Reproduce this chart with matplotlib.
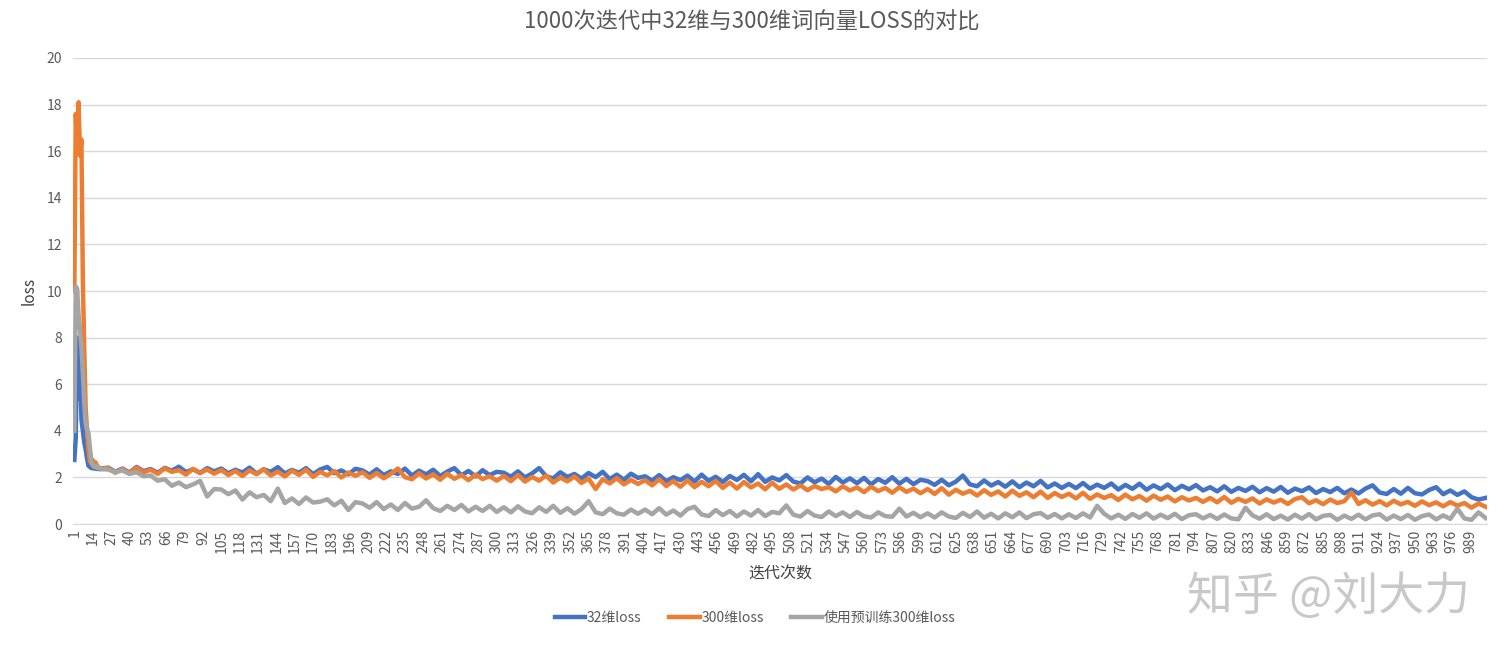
import matplotlib
matplotlib.use("Agg")
import matplotlib.pyplot as plt

plt.rcParams['font.family'] = ['Noto Sans CJK SC', 'DejaVu Sans']

iters = list(range(1, 21)) + list(range(25, 1001, 5))

loss_32 = [
    2.75, 3.7, 8.0, 5.4, 7.5, 4.5, 4.0, 3.5, 3.2, 2.8, 2.5, 2.45, 2.4, 2.4, 2.38, 2.42, 2.36, 2.4, 2.35, 2.38,
    2.42, 2.24, 2.38, 2.21, 2.45, 2.27, 2.36, 2.20, 2.41, 2.29, 2.46, 2.23, 2.35, 2.19, 2.40, 2.26,
    2.38, 2.18, 2.33, 2.21, 2.42, 2.16, 2.35, 2.24, 2.44, 2.17, 2.32, 2.20, 2.40, 2.14, 2.34, 2.45, 2.18, 2.30, 2.13, 2.37,
    2.30, 2.12, 2.35, 2.10, 2.26, 2.15, 2.38, 2.08, 2.29, 2.13, 2.33, 2.06, 2.25, 2.40, 2.09, 2.28, 2.04, 2.31, 2.10, 2.24,
    2.20, 2.03, 2.26, 2.00, 2.17, 2.40, 2.05, 1.96, 2.22, 2.02, 2.15, 1.95, 2.19, 2.01, 2.24, 1.93, 2.12, 1.90, 2.16, 1.98,
    2.05, 1.86, 2.10, 1.84, 2.01, 1.88, 2.08, 1.82, 2.12, 1.85, 2.03, 1.80, 2.06, 1.89, 2.11, 1.83, 2.14, 1.81, 2.00, 1.87,
    2.10, 1.82, 1.74, 2.00, 1.79, 1.95, 1.72, 2.02, 1.78, 1.96, 1.75, 1.98, 1.70, 1.93, 1.77, 2.01, 1.73, 1.94, 1.71, 1.90,
    1.84, 1.68, 1.90, 1.66, 1.82, 2.08, 1.70, 1.62, 1.87, 1.65, 1.80, 1.60, 1.83, 1.58, 1.78, 1.62, 1.85, 1.57, 1.74, 1.55,
    1.72, 1.54, 1.76, 1.52, 1.69, 1.55, 1.74, 1.48, 1.68, 1.51, 1.73, 1.47, 1.66, 1.50, 1.70, 1.45, 1.64, 1.49, 1.67, 1.44,
    1.58, 1.40, 1.62, 1.38, 1.55, 1.42, 1.60, 1.36, 1.54, 1.39, 1.59, 1.34, 1.52, 1.41, 1.57, 1.33, 1.50, 1.37, 1.55, 1.32,
    1.48, 1.31, 1.52, 1.66, 1.35, 1.29, 1.50, 1.30, 1.55, 1.32, 1.27, 1.46, 1.58, 1.28, 1.44, 1.25, 1.40, 1.15, 1.05, 1.12,
]

loss_300 = [
    10.0, 17.6, 16.0, 18.1, 15.8, 16.5, 10.5, 7.5, 5.0, 4.0, 3.2, 2.7, 2.6, 2.75, 2.55, 2.65, 2.5, 2.45, 2.4, 2.38,
    2.40, 2.20, 2.36, 2.18, 2.42, 2.22, 2.33, 2.15, 2.39, 2.24, 2.31, 2.12, 2.37, 2.19, 2.34, 2.16,
    2.32, 2.10, 2.28, 2.06, 2.30, 2.14, 2.35, 2.08, 2.25, 2.04, 2.29, 2.11, 2.33, 2.02, 2.24, 2.09, 2.27, 2.00, 2.21, 2.07,
    2.22, 1.98, 2.19, 1.96, 2.15, 2.38, 2.01, 1.92, 2.18, 1.95, 2.13, 1.90, 2.16, 1.94, 2.10, 1.88, 2.12, 1.93, 2.05, 1.86,
    2.06, 1.84, 2.10, 1.82, 2.02, 1.86, 2.08, 1.78, 1.99, 1.83, 2.04, 1.76, 1.95, 1.50, 1.92, 1.74, 1.97, 1.70, 1.89, 1.72,
    1.88, 1.66, 1.92, 1.63, 1.84, 1.60, 1.87, 1.58, 1.81, 1.62, 1.85, 1.55, 1.78, 1.52, 1.80, 1.57, 1.74, 1.49, 1.77, 1.51,
    1.70, 1.48, 1.66, 1.45, 1.63, 1.50, 1.58, 1.40, 1.62, 1.44, 1.57, 1.37, 1.60, 1.41, 1.55, 1.34, 1.58, 1.38, 1.52, 1.32,
    1.50, 1.29, 1.54, 1.26, 1.47, 1.30, 1.42, 1.22, 1.45, 1.25, 1.40, 1.18, 1.43, 1.21, 1.36, 1.15, 1.39, 1.12, 1.33, 1.16,
    1.30, 1.10, 1.34, 1.08, 1.27, 1.12, 1.24, 1.03, 1.26, 1.06, 1.20, 1.00, 1.22, 1.04, 1.18, 0.97, 1.15, 1.01, 1.12, 0.95,
    1.12, 0.93, 1.16, 0.91, 1.08, 0.95, 1.10, 0.88, 1.06, 0.92, 1.04, 0.86, 1.07, 1.15, 0.89, 1.02, 0.85, 1.05, 0.90, 0.98,
    1.35, 0.86, 1.02, 0.83, 0.98, 0.80, 1.00, 0.84, 0.95, 0.78, 0.97, 0.81, 0.93, 0.76, 0.94, 0.79, 0.90, 0.70, 0.88, 0.74,
]

loss_300_pre = [
    4.0, 10.2, 10.1, 9.0, 8.3, 7.6, 6.5, 5.2, 4.3, 4.1, 3.9, 3.3, 2.7, 2.5, 2.45, 2.5, 2.4, 2.45, 2.38, 2.35,
    2.34, 2.22, 2.30, 2.15, 2.22, 2.05, 2.08, 1.86, 1.92, 1.64, 1.78, 1.58, 1.70, 1.85, 1.18, 1.50,
    1.48, 1.28, 1.44, 1.05, 1.36, 1.15, 1.25, 0.98, 1.52, 0.90, 1.10, 0.86, 1.14, 0.92, 0.96, 1.06, 0.80, 1.00, 0.60, 0.94,
    0.88, 0.70, 0.94, 0.64, 0.84, 0.60, 0.90, 0.66, 0.74, 1.02, 0.68, 0.56, 0.78, 0.60, 0.82, 0.54, 0.74, 0.56, 0.78, 0.52,
    0.72, 0.50, 0.76, 0.54, 0.46, 0.72, 0.52, 0.78, 0.48, 0.68, 0.44, 0.64, 0.98, 0.50, 0.42, 0.66, 0.46, 0.40, 0.62, 0.44,
    0.62, 0.42, 0.68, 0.40, 0.58, 0.36, 0.64, 0.74, 0.41, 0.34, 0.60, 0.38, 0.56, 0.32, 0.54, 0.36, 0.60, 0.34, 0.52, 0.46,
    0.80, 0.40, 0.32, 0.56, 0.36, 0.30, 0.54, 0.34, 0.50, 0.30, 0.52, 0.33, 0.28, 0.50, 0.34, 0.31, 0.66, 0.32, 0.48, 0.29,
    0.46, 0.28, 0.50, 0.32, 0.26, 0.48, 0.30, 0.54, 0.27, 0.44, 0.24, 0.46, 0.29, 0.50, 0.25, 0.42, 0.47, 0.27, 0.43, 0.24,
    0.42, 0.26, 0.46, 0.28, 0.78, 0.44, 0.24, 0.40, 0.22, 0.43, 0.27, 0.46, 0.23, 0.40, 0.25, 0.44, 0.21, 0.38, 0.42, 0.24,
    0.39, 0.22, 0.41, 0.24, 0.20, 0.70, 0.37, 0.23, 0.42, 0.21, 0.36, 0.19, 0.40, 0.23, 0.43, 0.20, 0.35, 0.39, 0.18, 0.36,
    0.22, 0.40, 0.20, 0.37, 0.42, 0.19, 0.36, 0.21, 0.39, 0.18, 0.34, 0.41, 0.20, 0.37, 0.22, 0.66, 0.24, 0.18, 0.50, 0.26,
]

series_names = ['32维loss', '300维loss', '使用预训练300维loss']
colors = ['#4472C4', '#ED7D31', '#A5A5A5']
xtick_labels = list(range(1, 1001, 13))
yticks = list(range(0, 21, 2))

title = '1000次迭代中32维与300维词向量LOSS的对比'
xlabel = '迭代次数'
ylabel = 'loss'

fig = plt.figure(figsize=(15.04, 6.56), dpi=100)
ax = fig.add_axes([0.0485, 0.2012, 0.9402, 0.7104])

for vals, name, c in zip([loss_32, loss_300, loss_300_pre], series_names, colors):
    ax.plot(iters, vals, color=c, lw=3.2, label=name, solid_joinstyle='round')

ax.set_xlim(0, 1001)
ax.set_ylim(0, 20)
ax.set_yticks(yticks)
ax.set_xticks(xtick_labels)
ax.set_xticklabels([str(v) for v in xtick_labels], rotation=90, fontsize=10, color='#595959')
ax.tick_params(axis='y', labelsize=10, colors='#595959', length=0, pad=8)
ax.tick_params(axis='x', length=0, pad=4)
ax.grid(axis='y', color='#D9D9D9', lw=1)
ax.set_axisbelow(True)
for s in ['top', 'right', 'left']:
    ax.spines[s].set_visible(False)
ax.spines['bottom'].set_color('#D9D9D9')

fig.text(0.5, 0.966, title, ha='center', va='center', fontsize=16, color='#595959')
ax.set_xlabel(xlabel, fontsize=11.5, color='#404040', labelpad=9)
ax.set_ylabel(ylabel, fontsize=11, color='#404040', labelpad=6)

leg = fig.legend(loc='center', bbox_to_anchor=(0.502, 0.058), ncol=3, frameon=False,
                 fontsize=10, handlelength=2.2, handletextpad=0.1, columnspacing=2.0)
for t in leg.get_texts():
    t.set_color('#595959')

fig.text(0.883, 0.09, '知乎 @刘大力', ha='center', va='center', fontsize=33, color='#C8C8C8')

fig.savefig('out.png', dpi=100)
